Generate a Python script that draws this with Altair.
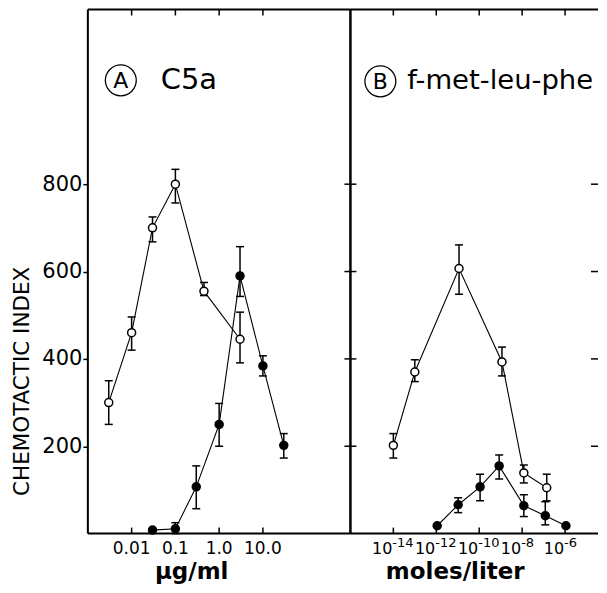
import math
import altair as alt
import pandas as pd

# ---------------- data ----------------
# Panel A: C5a (ug/ml)
A_OPEN_X = [0.003, 0.01, 0.03, 0.1, 0.45, 3.0]
A_OPEN_Y = [300, 460, 700, 800, 555, 445]
A_OPEN_LO = [250, 420, 668, 757, 545, 391]
A_OPEN_HI = [350, 496, 725, 834, 575, 507]

A_CLOSED_X = [0.03, 0.1, 0.3, 1.0, 3.0, 10.0, 30.0]
A_CLOSED_Y = [8, 11, 107, 250, 590, 384, 202]
A_CLOSED_LO = [8, 0, 57, 200, 543, 361, 173]
A_CLOSED_HI = [8, 25, 155, 298, 657, 407, 229]

# Panel B: f-met-leu-phe (moles/liter)
B_OPEN_X = [1e-14, 1e-13, 1.15e-11, 1.15e-9, 1.2e-8, 1.4e-7]
B_OPEN_Y = [202, 370, 607, 393, 139, 105]
B_OPEN_LO = [173, 348, 548, 361, 116, 75]
B_OPEN_HI = [229, 398, 661, 427, 157, 136]

B_CLOSED_X = [1.1e-12, 1.05e-11, 1.1e-10, 0.85e-9, 1.2e-8, 1.2e-7, 1.1e-6]
B_CLOSED_Y = [18, 66, 107, 155, 64, 41, 18]
B_CLOSED_LO = [18, 48, 75, 125, 39, 20, 18]
B_CLOSED_HI = [18, 82, 136, 180, 89, 73, 18]

Y_TICKS = [200, 400, 600, 800]
A_TICKS = [0.01, 0.1, 1.0, 10.0]
A_TICK_LABELS = ["0.01", "0.1", "1.0", "10.0"]
B_TICKS = [1e-14, 1e-12, 1e-10, 1e-8, 1e-6]
B_TICK_BASES = ["10", "10", "10", "10", "10"]
B_TICK_EXPONENTS = ["-14", "-12", "-10", "-8", "-6"]

PANEL_LETTERS = ["A", "B"]
PANEL_NAMES = ["C5a", "f-met-leu-phe"]
X_TITLES = ["μg/ml", "moles/liter"]
Y_TITLE = "CHEMOTACTIC INDEX"

FONT = "DejaVu Sans"
H = 525
WA = 263
WB = 248


def make_df(xo, yo, lo_o, hi_o, xc, yc, lo_c, hi_c):
    d1 = pd.DataFrame({"x": xo, "y": yo, "lo": lo_o, "hi": hi_o, "series": "open"})
    d2 = pd.DataFrame({"x": xc, "y": yc, "lo": lo_c, "hi": hi_c, "series": "closed"})
    return pd.concat([d1, d2], ignore_index=True)


def one(v):
    return pd.DataFrame({"t": [v]})


def panel(df, xdomain, width, ticks, show_y, letter, name, name_size, cx, cy, tx, ty,
          xtitle, title_x, is_b):
    xscale = alt.Scale(type="log", domain=xdomain, nice=False)
    yscale = alt.Scale(domain=[0, 1200], nice=False)
    if show_y:
        yaxis = alt.Axis(values=Y_TICKS, tickSize=5, tickColor="black", tickWidth=1.5,
                         domain=False, grid=False,
                         labelFontSize=21, labelFont=FONT, labelColor="black",
                         labelPadding=1,
                         title=Y_TITLE, titleFont=FONT, titleFontSize=21.5,
                         titleFontWeight="normal", titleColor="black",
                         titleX=-65, titleY=372, titleAlign="center",
                         titleBaseline="middle")
    else:
        yaxis = None

    def X(f="x"):
        return alt.X(f"{f}:Q", scale=xscale, axis=None)

    def Y(f="y"):
        return alt.Y(f"{f}:Q", scale=yscale, axis=yaxis)

    base = alt.Chart(df)
    lines = base.mark_line(color="black", strokeWidth=1.1).encode(
        x=X(), y=Y(), detail="series:N")
    err = base.mark_rule(color="black", strokeWidth=1.5).encode(
        x=X(), y=Y("lo"), y2="hi:Q")
    cap_lo = base.mark_tick(orient="horizontal", size=8, thickness=1.5,
                            color="black", opacity=1).encode(x=X(), y=Y("lo"))
    cap_hi = base.mark_tick(orient="horizontal", size=8, thickness=1.5,
                            color="black", opacity=1).encode(x=X(), y=Y("hi"))
    pts = base.mark_point(shape="circle", filled=True, stroke="black",
                          strokeWidth=1.5, size=64, opacity=1).encode(
        x=X(), y=Y(),
        fill=alt.Fill("series:N",
                      scale=alt.Scale(domain=["open", "closed"], range=["white", "black"]),
                      legend=None))

    tdf = pd.DataFrame({"x": ticks})
    top_t = alt.Chart(tdf).mark_rule(color="black", strokeWidth=1.5).encode(
        x=X(), y=alt.value(0), y2=alt.value(6))
    bot_t = alt.Chart(tdf).mark_rule(color="black", strokeWidth=1.5).encode(
        x=X(), y=alt.value(H - 6), y2=alt.value(H))

    # frame
    fr = dict(color="black", strokeWidth=2)
    top_l = alt.Chart(one(0)).mark_rule(**fr).encode(
        x=alt.value(0), x2=alt.value(width), y=alt.value(0))
    bot_l = alt.Chart(one(0)).mark_rule(**fr).encode(
        x=alt.value(0), x2=alt.value(width), y=alt.value(H))
    left_l = alt.Chart(one(0)).mark_rule(**fr).encode(
        x=alt.value(0), y=alt.value(0), y2=alt.value(H))
    layers = [top_l, bot_l, left_l]
    if not is_b:
        right_l = alt.Chart(one(0)).mark_rule(**fr).encode(
            x=alt.value(width), y=alt.value(0), y2=alt.value(H))
        layers.append(right_l)

    layers += [lines, err, cap_lo, cap_hi, pts, top_t, bot_t]

    # tick labels and axis title
    if is_b:
        ldf = pd.DataFrame({"x": ticks, "b": B_TICK_BASES, "e": B_TICK_EXPONENTS})
        base_t = alt.Chart(ldf).mark_text(font=FONT, fontSize=16, align="right",
                                          baseline="alphabetic", color="black", dx=-1).encode(
            x=X(), y=alt.value(H + 20), text="b:N")
        exp_t = alt.Chart(ldf).mark_text(font=FONT, fontSize=13, align="left",
                                         baseline="alphabetic", color="black", dx=-1).encode(
            x=X(), y=alt.value(H + 13), text="e:N")
        layers += [base_t, exp_t]
        ydf = pd.DataFrame({"y": Y_TICKS})
        left_t = alt.Chart(ydf).mark_rule(color="black", strokeWidth=1.5).encode(
            y=Y(), x=alt.value(-6), x2=alt.value(6))
        right_t = alt.Chart(ydf).mark_rule(color="black", strokeWidth=1.5).encode(
            y=Y(), x=alt.value(width - 7), x2=alt.value(width))
        layers += [left_t, right_t]
    else:
        ldf = pd.DataFrame({"x": ticks, "lab": A_TICK_LABELS})
        lab_t = alt.Chart(ldf).mark_text(font=FONT, fontSize=17, align="center",
                                         baseline="alphabetic", color="black").encode(
            x=X(), y=alt.value(H + 20), text="lab:N")
        layers.append(lab_t)

    xt = alt.Chart(one(xtitle)).mark_text(font=FONT, fontSize=23, fontWeight="bold",
                                          align="center", baseline="alphabetic",
                                          color="black").encode(
        x=alt.value(title_x), y=alt.value(H + 45), text="t:N")
    layers.append(xt)

    circ = alt.Chart(one(letter)).mark_point(shape="circle", size=960, filled=False,
                                             stroke="black", strokeWidth=1.3,
                                             opacity=1).encode(
        x=alt.value(cx), y=alt.value(cy))
    ltxt = alt.Chart(one(letter)).mark_text(font=FONT, fontSize=22, align="center",
                                            baseline="middle", color="black").encode(
        x=alt.value(cx), y=alt.value(cy + 1), text="t:N")
    ntxt = alt.Chart(one(name)).mark_text(font=FONT, fontSize=name_size, align="left",
                                          baseline="alphabetic", color="black").encode(
        x=alt.value(tx), y=alt.value(ty), text="t:N")
    layers += [circ, ltxt, ntxt]

    return alt.layer(*layers).properties(width=width, height=H)


dfA = make_df(A_OPEN_X, A_OPEN_Y, A_OPEN_LO, A_OPEN_HI,
              A_CLOSED_X, A_CLOSED_Y, A_CLOSED_LO, A_CLOSED_HI)
dfB = make_df(B_OPEN_X, B_OPEN_Y, B_OPEN_LO, B_OPEN_HI,
              B_CLOSED_X, B_CLOSED_Y, B_CLOSED_LO, B_CLOSED_HI)

pA = panel(dfA, [0.001, 1000], WA, A_TICKS, True,
           PANEL_LETTERS[0], PANEL_NAMES[0], 29, 33, 71, 73, 80, X_TITLES[0], 104, False)
pB = panel(dfB, [1e-16, 10 ** (-16 + WB / 21.5)], WB, B_TICKS, False,
           PANEL_LETTERS[1], PANEL_NAMES[1], 27.5, 30, 72, 57, 80, X_TITLES[1], 105, True)

chart = alt.hconcat(pA, pB, spacing=0, bounds="flush").properties(
    padding={"left": 4, "top": 0, "right": 0, "bottom": 0}
).configure_view(stroke=None)

chart.save("out.html", embed_options={"renderer": "svg", "actions": False})
